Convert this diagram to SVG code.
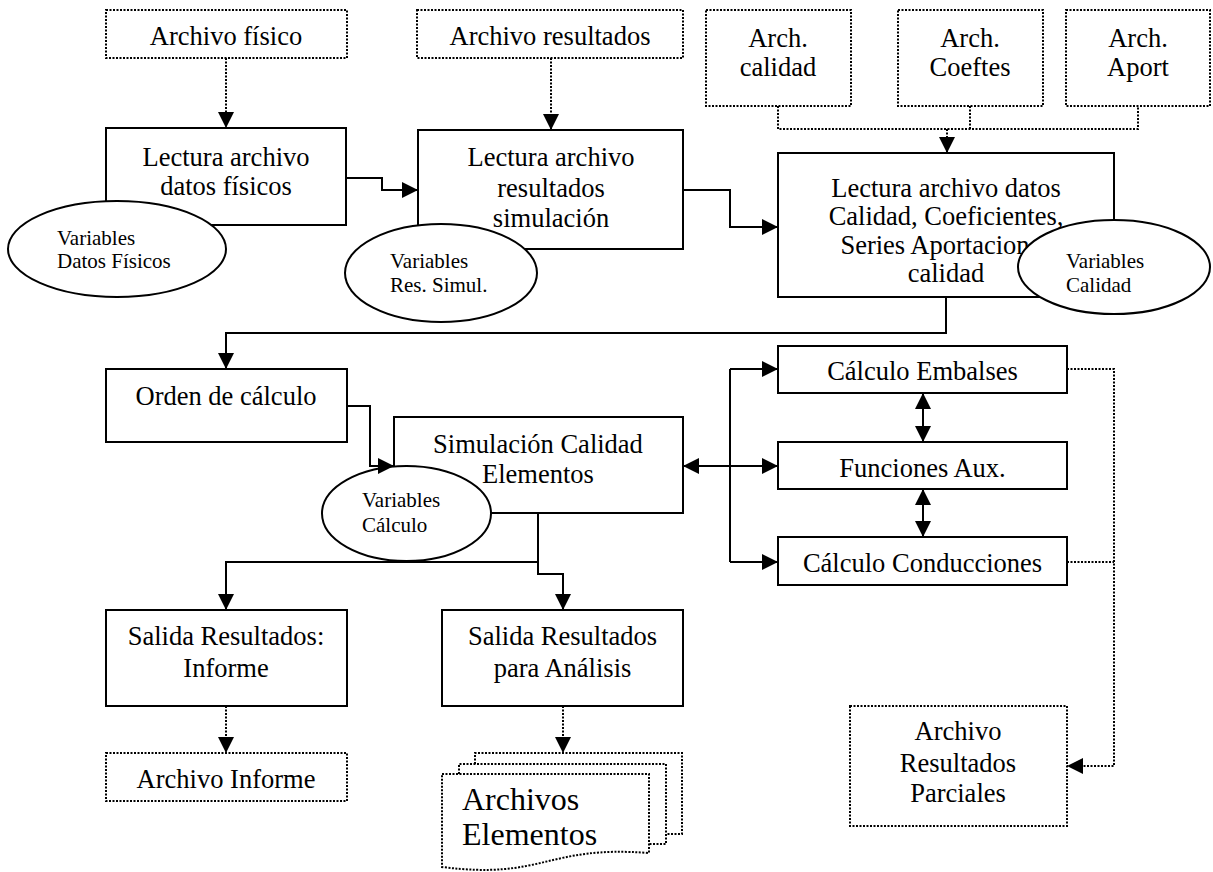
<svg xmlns="http://www.w3.org/2000/svg" width="1213" height="872" viewBox="0 0 1213 872">
<style>
.box{fill:#fff;stroke:#000;stroke-width:2}
.file{fill:#fff;stroke:#000;stroke-width:2;stroke-dasharray:2 1.5}
.ell{fill:#fff;stroke:#000;stroke-width:2}
.t{font-family:"Liberation Serif","Times New Roman",serif;font-size:26.5px;fill:#000;text-anchor:middle}
.s{font-family:"Liberation Serif","Times New Roman",serif;font-size:21px;fill:#000}
.big{font-family:"Liberation Serif","Times New Roman",serif;font-size:32px;fill:#000}
.ln{fill:none;stroke:#000;stroke-width:2}
.dl{fill:none;stroke:#000;stroke-width:2;stroke-dasharray:2 1.5}
</style>
<defs>
<marker id="ah" markerUnits="userSpaceOnUse" markerWidth="16" markerHeight="16" viewBox="0 0 15 15" refX="15" refY="7.5" orient="auto-start-reverse">
<path d="M0,0 L15,7.5 L0,15 z" fill="#000"/>
</marker>
</defs>
<rect width="1213" height="872" fill="#fff"/>

<g id="archivo-fisico">
<rect class="file" x="106" y="10" width="241" height="48"/>
<text class="t" x="226" y="45">Archivo físico</text>
</g>
<g id="archivo-resultados">
<rect class="file" x="417" y="10" width="266" height="48"/>
<text class="t" x="550" y="45">Archivo resultados</text>
</g>
<g id="arch-calidad">
<rect class="file" x="706" y="10" width="145" height="96"/>
<text class="t" x="778" y="47">Arch.</text>
<text class="t" x="778" y="76">calidad</text>
</g>
<g id="arch-coeftes">
<rect class="file" x="898" y="10" width="145" height="96"/>
<text class="t" x="970" y="47">Arch.</text>
<text class="t" x="970" y="76">Coeftes</text>
</g>
<g id="arch-aport">
<rect class="file" x="1066" y="10" width="144" height="96"/>
<text class="t" x="1138" y="47">Arch.</text>
<text class="t" x="1138" y="76">Aport</text>
</g>

<g id="lectura-fisicos">
<rect class="box" x="106" y="128" width="240" height="97"/>
<text class="t" x="226" y="166">Lectura archivo</text>
<text class="t" x="226" y="195">datos físicos</text>
</g>
<g id="lectura-resultados">
<rect class="box" x="418" y="130" width="265" height="119"/>
<text class="t" x="551" y="166">Lectura archivo</text>
<text class="t" x="551" y="197">resultados</text>
<text class="t" x="551" y="227">simulación</text>
</g>
<g id="lectura-calidad">
<rect class="box" x="778" y="153" width="336" height="144"/>
<text class="t" x="946" y="197">Lectura archivo datos</text>
<text class="t" x="946" y="225">Calidad, Coeficientes,</text>
<text class="t" x="946" y="254">Series Aportaciones</text>
<text class="t" x="946" y="282">calidad</text>
</g>
<g id="var-datos-fisicos">
<ellipse class="ell" cx="117" cy="249" rx="109" ry="48"/>
<text class="s" x="57" y="245">Variables</text>
<text class="s" x="57" y="268">Datos Físicos</text>
</g>
<g id="var-res-simul">
<ellipse class="ell" cx="441" cy="273" rx="96" ry="49"/>
<text class="s" x="390" y="268">Variables</text>
<text class="s" x="390" y="292">Res. Simul.</text>
</g>
<g id="var-calidad">
<ellipse class="ell" cx="1114" cy="267" rx="96" ry="47"/>
<text class="s" x="1066" y="268">Variables</text>
<text class="s" x="1066" y="292">Calidad</text>
</g>

<g id="orden-calculo">
<rect class="box" x="106" y="369" width="241" height="73"/>
<text class="t" x="226" y="405">Orden de cálculo</text>
</g>
<g id="simulacion">
<rect class="box" x="394" y="417" width="289" height="96"/>
<text class="t" x="538" y="453">Simulación Calidad</text>
<text class="t" x="538" y="483">Elementos</text>
</g>
<g id="var-calculo">
<ellipse class="ell" cx="406.5" cy="513.5" rx="84.5" ry="47.5"/>
<text class="s" x="362" y="507">Variables</text>
<text class="s" x="362" y="532">Cálculo</text>
</g>
<g id="calculo-embalses">
<rect class="box" x="778" y="346" width="289" height="47"/>
<text class="t" x="922.5" y="380">Cálculo Embalses</text>
</g>
<g id="funciones-aux">
<rect class="box" x="778" y="442" width="289" height="47"/>
<text class="t" x="922.5" y="477">Funciones Aux.</text>
</g>
<g id="calculo-conducciones">
<rect class="box" x="778" y="537" width="289" height="48"/>
<text class="t" x="922.5" y="572">Cálculo Conducciones</text>
</g>

<g id="salida-informe">
<rect class="box" x="106" y="610" width="241" height="96"/>
<text class="t" x="226" y="645">Salida Resultados:</text>
<text class="t" x="226" y="677">Informe</text>
</g>
<g id="salida-analisis">
<rect class="box" x="442" y="610" width="241" height="96"/>
<text class="t" x="562.5" y="645">Salida Resultados</text>
<text class="t" x="562.5" y="677">para Análisis</text>
</g>
<g id="archivo-informe">
<rect class="file" x="106" y="753" width="241" height="48"/>
<text class="t" x="226" y="788">Archivo Informe</text>
</g>
<g id="archivos-elementos">
<path class="file" d="M475,764 V753 H682 V834 H666"/>
<path class="file" d="M459,774 V764 H666 V844 H649"/>
<path class="file" d="M442,774 H649 V853 C545,845 545,880 442,867 Z"/>
<text class="big" x="462" y="810">Archivos</text>
<text class="big" x="462" y="845">Elementos</text>
</g>
<g id="archivo-parciales">
<rect class="file" x="850" y="706" width="217" height="120"/>
<text class="t" x="958" y="740">Archivo</text>
<text class="t" x="958" y="772">Resultados</text>
<text class="t" x="958" y="802">Parciales</text>
</g>

<g id="connectors">
<path class="dl" d="M226,58 V128" marker-end="url(#ah)"/>
<path class="dl" d="M551,58 V130" marker-end="url(#ah)"/>
<path class="dl" d="M778,106 V129 H1138 V106"/>
<path class="dl" d="M970,106 V129"/>
<path class="dl" d="M947,129 V153" marker-end="url(#ah)"/>
<path class="ln" d="M346,178 H382 V190 H418" marker-end="url(#ah)"/>
<path class="ln" d="M683,190 H730 V227 H778" marker-end="url(#ah)"/>
<path class="ln" d="M946,297 V333 H226 V369" marker-end="url(#ah)"/>
<path class="ln" d="M347,406 H370 V466 H394" marker-end="url(#ah)"/>
<path class="ln" d="M538,513 V562 H226 V610" marker-end="url(#ah)"/>
<path class="ln" d="M538,562 V574 H563 V610" marker-end="url(#ah)"/>
<path class="ln" d="M730,466 H683" marker-end="url(#ah)"/>
<path class="ln" d="M730,369 V562"/>
<path class="ln" d="M730,369 H778" marker-end="url(#ah)"/>
<path class="ln" d="M730,466 H778" marker-end="url(#ah)"/>
<path class="ln" d="M730,562 H778" marker-end="url(#ah)"/>
<path class="ln" d="M923,393 V442" marker-start="url(#ah)" marker-end="url(#ah)"/>
<path class="ln" d="M923,489 V537" marker-start="url(#ah)" marker-end="url(#ah)"/>
<path class="dl" d="M1067,369 H1114 V766 H1067" marker-end="url(#ah)"/>
<path class="dl" d="M1067,562 H1114"/>
<path class="dl" d="M226,706 V753" marker-end="url(#ah)"/>
<path class="dl" d="M563,706 V753" marker-end="url(#ah)"/>
</g>
</svg>
